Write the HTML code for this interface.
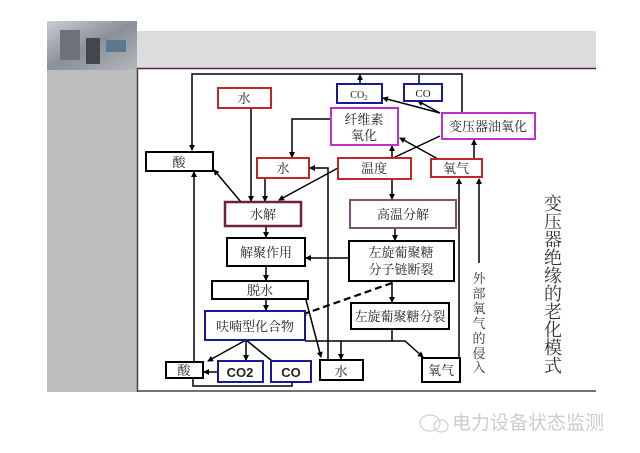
<!DOCTYPE html>
<html><head><meta charset="utf-8"><style>
html,body{margin:0;padding:0;background:#fff;}
svg{display:block;}
text{font-family:"Liberation Serif","Noto Serif CJK SC",serif;}
</style></head><body>
<svg width="640" height="453" viewBox="0 0 640 453" xmlns="http://www.w3.org/2000/svg">
<defs>
<marker id="a" markerWidth="6" markerHeight="6" refX="5" refY="3" orient="auto" markerUnits="userSpaceOnUse"><path d="M0,0 L6,3 L0,6 z" fill="#000"/></marker>
<linearGradient id="g" x1="0" y1="0" x2="1" y2="1"><stop offset="0" stop-color="#c8cdd2"/><stop offset="0.5" stop-color="#8a9096"/><stop offset="1" stop-color="#b4b8bc"/></linearGradient>
</defs>
<rect x="47" y="31" width="549" height="361" fill="#dcdcdc"/>
<rect x="47" y="68" width="90" height="324" fill="#bdbdbd"/>
<rect x="47" y="21" width="90" height="49" fill="url(#g)"/>
<rect x="60" y="30" width="20" height="30" fill="#6c7278"/>
<rect x="86" y="38" width="14" height="26" fill="#40484e"/>
<rect x="106" y="40" width="20" height="12" fill="#5a7890"/>
<rect x="137" y="68" width="459" height="324" fill="#fff"/>
<line x1="137" y1="68.5" x2="596" y2="68.5" stroke="#5a2050" stroke-width="1.5"/>
<line x1="137.5" y1="68" x2="137.5" y2="392" stroke="#444" stroke-width="1.5"/>
<line x1="137" y1="391" x2="596" y2="391" stroke="#444" stroke-width="1.5"/>

<g fill="none" stroke="#000" stroke-width="1.5">
<polyline points="462,113 462,74 192,74 192,150" marker-end="url(#a)"/>
<line x1="360" y1="84" x2="360" y2="75" marker-end="url(#a)"/>
<line x1="419" y1="84" x2="419" y2="75"/>
<line x1="440" y1="113" x2="383" y2="98" marker-end="url(#a)"/>
<line x1="440" y1="113" x2="418" y2="101" marker-end="url(#a)"/>
<line x1="251" y1="108" x2="251" y2="201" marker-end="url(#a)"/>
<polyline points="331,119 292,119 292,157" marker-end="url(#a)"/>
<line x1="392" y1="158" x2="392" y2="146" marker-end="url(#a)"/>
<line x1="393" y1="158" x2="440" y2="136"/>
<line x1="438" y1="159" x2="400" y2="138" marker-end="url(#a)"/>
<line x1="474" y1="159" x2="474" y2="140" marker-end="url(#a)"/>
<line x1="241" y1="202" x2="214" y2="170" marker-end="url(#a)"/>
<line x1="194" y1="362" x2="194" y2="172" marker-end="url(#a)"/>
<line x1="265" y1="178" x2="265" y2="201" marker-end="url(#a)"/>
<line x1="338" y1="168" x2="279" y2="200" marker-end="url(#a)"/>
<polyline points="328,360 328,168 310,168" marker-end="url(#a)"/>
<line x1="392" y1="179" x2="392" y2="199" marker-end="url(#a)"/>
<line x1="395" y1="228" x2="395" y2="240" marker-end="url(#a)"/>
<line x1="266" y1="226" x2="266" y2="237" marker-end="url(#a)"/>
<line x1="349" y1="258" x2="306" y2="258" marker-end="url(#a)"/>
<line x1="266" y1="266" x2="266" y2="280" marker-end="url(#a)"/>
<line x1="266" y1="299" x2="266" y2="310" marker-end="url(#a)"/>
<line x1="392" y1="281" x2="392" y2="302" marker-end="url(#a)"/>
<line x1="392" y1="283" x2="301" y2="315" stroke-width="2.2" stroke-dasharray="7,4" marker-end="url(#a)"/>
<line x1="306" y1="300" x2="321" y2="357" marker-end="url(#a)"/>
<polyline points="305,341 392,341 392,329"/>
<polyline points="392,341 405,341 423,357" marker-end="url(#a)"/>
<line x1="341" y1="341" x2="341" y2="359" marker-end="url(#a)"/>
<line x1="246" y1="340" x2="208" y2="361" marker-end="url(#a)"/>
<line x1="246" y1="340" x2="246" y2="360" marker-end="url(#a)"/>
<line x1="246" y1="340" x2="272" y2="361"/>
<line x1="218" y1="372" x2="204" y2="372" marker-end="url(#a)"/>
<polyline points="292,382 292,386 193,386 193,378"/>
<line x1="459" y1="358" x2="459" y2="179" marker-end="url(#a)"/>
<line x1="479" y1="263" x2="479" y2="179" marker-end="url(#a)"/>
</g>

<g fill="#fff" stroke-width="2">
<rect x="218" y="88" width="53" height="20" stroke="#c02828"/>
<rect x="337" y="84" width="45" height="19" stroke="#1a1a90"/>
<rect x="404" y="84" width="38" height="17" stroke="#1a1a90"/>
<rect x="331" y="108" width="67" height="37" stroke="#c030d0"/>
<rect x="442" y="113" width="93" height="26" stroke="#c030d0"/>
<rect x="146" y="152" width="67" height="19" stroke="#000"/>
<rect x="257" y="158" width="52" height="20" stroke="#c02828"/>
<rect x="338" y="158" width="73" height="21" stroke="#c02828"/>
<rect x="431" y="159" width="51" height="18" stroke="#c02828"/>
<rect x="225" y="202" width="76" height="24" stroke="#702040" stroke-width="2.5"/>
<rect x="350" y="200" width="106" height="28" stroke="#805070"/>
<rect x="227" y="238" width="78" height="28" stroke="#000"/>
<rect x="349" y="241" width="105" height="40" stroke="#000"/>
<rect x="212" y="281" width="96" height="18" stroke="#000"/>
<rect x="205" y="311" width="100" height="29" stroke="#1a1a90"/>
<rect x="351" y="303" width="98" height="26" stroke="#000"/>
<rect x="166" y="362" width="37" height="16" stroke="#000"/>
<rect x="218" y="361" width="45" height="21" stroke="#1a1a90"/>
<rect x="271" y="361" width="40" height="21" stroke="#1a1a90"/>
<rect x="320" y="360" width="43" height="20" stroke="#000"/>
<rect x="422" y="358" width="38" height="24" stroke="#000"/>
</g>

<g font-size="13" fill="#222" text-anchor="middle">
<text x="244" y="103">水</text>
<text x="359" y="98" font-size="10">CO<tspan font-size="7" dy="2">2</tspan></text>
<text x="423" y="97" font-size="11">CO</text>
<text x="364" y="124">纤维素</text>
<text x="364" y="140">氧化</text>
<text x="488" y="131">变压器油氧化</text>
<text x="179" y="167">酸</text>
<text x="283" y="173">水</text>
<text x="374" y="173">温度</text>
<text x="456" y="173">氧气</text>
<text x="263" y="219">水解</text>
<text x="403" y="219">高温分解</text>
<text x="266" y="257">解聚作用</text>
<text x="401" y="257">左旋葡聚糖</text>
<text x="401" y="274">分子链断裂</text>
<text x="260" y="295">脱水</text>
<text x="255" y="331">呋喃型化合物</text>
<text x="400" y="321">左旋葡聚糖分裂</text>
<text x="184" y="375">酸</text>
<text x="240" y="377" style="font-family:'Liberation Sans',sans-serif;font-weight:bold;font-size:13px">CO2</text>
<text x="291" y="377" style="font-family:'Liberation Sans',sans-serif;font-weight:bold;font-size:13px">CO</text>
<text x="341" y="376">水</text>
<text x="441" y="375">氧气</text>
</g>
<g font-size="13" fill="#333" text-anchor="middle">
<text x="479" y="283">外</text><text x="479" y="298">部</text><text x="479" y="313">氧</text><text x="479" y="328">气</text><text x="479" y="343">的</text><text x="479" y="358">侵</text><text x="479" y="372">入</text>
</g>
<g font-size="18" fill="#333" text-anchor="middle">
<text x="553" y="210">变</text><text x="553" y="228">压</text><text x="553" y="246">器</text><text x="553" y="264">绝</text><text x="553" y="282">缘</text><text x="553" y="300">的</text><text x="553" y="318">老</text><text x="553" y="336">化</text><text x="553" y="354">模</text><text x="553" y="372">式</text>
</g>
<g fill="none" stroke="#d0d0d0" stroke-width="1.2">
<ellipse cx="430" cy="423" rx="10" ry="8"/>
<ellipse cx="441" cy="426" rx="7" ry="6"/>
</g>
<text x="452" y="429" style="font-family:'Liberation Sans','Noto Sans CJK SC',sans-serif;font-size:19px" fill="#cdcdcd">电力设备状态监测</text>
</svg>
</body></html>
